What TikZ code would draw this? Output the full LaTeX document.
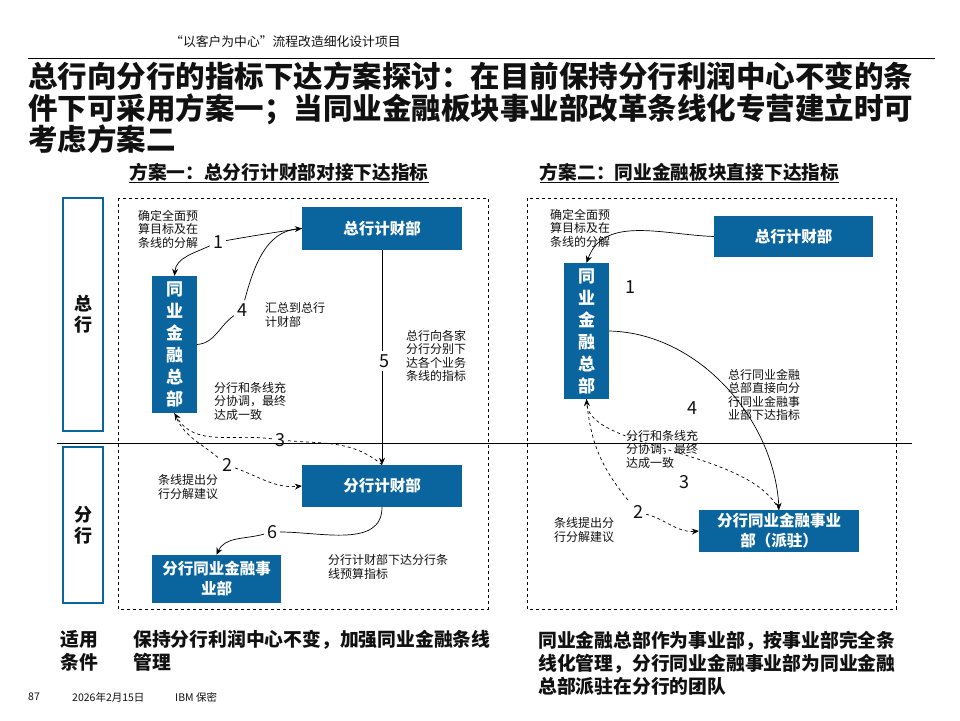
\documentclass[tikz,border=0pt]{standalone}
\usepackage{fontspec}
\setmainfont{Noto Sans CJK SC}
\usepackage{xcolor}
\usetikzlibrary{arrows.meta}
\definecolor{DeptBlue}{HTML}{0A659E}
\definecolor{Ink}{HTML}{111111}

\begin{document}
\begin{tikzpicture}[x=1pt,y=1pt,>={Stealth[length=7pt,width=6pt]},
  every node/.style={inner sep=0pt,text=Ink},
  dept/.style={fill=DeptBlue,text=white,font=\bfseries\fontsize{15.5}{20}\selectfont,align=center},
  tower/.style={dept,minimum width=45pt,font=\bfseries\fontsize{17}{22}\selectfont},
  side/.style={draw=DeptBlue,line width=1.1pt,fill=white,minimum width=40pt,font=\bfseries\fontsize{18}{21}\selectfont,align=center},
  memo/.style={font=\fontsize{12}{13.5}\selectfont,align=left,anchor=west},
  num/.style={font=\fontsize{18}{18}\selectfont,inner sep=3pt},
  cond/.style={font=\bfseries\fontsize{18.8}{23}\selectfont,align=left,anchor=west},
  foot/.style={font=\fontsize{10.5}{12}\selectfont,anchor=west},
  panel/.style={dashed,line width=0.7pt},
  link/.style={line width=0.7pt}]
\useasboundingbox (0,0) rectangle (960,-720);
\fill[white] (0,0) rectangle (960,-720);

\node[font=\fontsize{12.8}{14}\selectfont,anchor=west] (header) at (170,-42) {“以客户为中心”流程改造细化设计项目};
\draw[line width=1pt] (28,-58) -- (935,-58);
\node[font=\bfseries\fontsize{29.5}{31.5}\selectfont,align=left,anchor=west] (title) at (28,-108) {总行向分行的指标下达方案探讨：在目前保持分行利润中心不变的条\\件下可采用方案一；当同业金融板块事业部改革条线化专营建立时可\\考虑方案二};
\node[font=\bfseries\fontsize{18.7}{20}\selectfont] (planA) at (279,-173) {\underline{方案一：总分行计财部对接下达指标}};
\node[font=\bfseries\fontsize{18.7}{20}\selectfont] (planB) at (689.5,-173) {\underline{方案二：同业金融板块直接下达指标}};

\node[side,minimum height=233pt] (sideHQ) at (83,-314.5) {总\\行};
\node[side,minimum height=156pt] (sideBR) at (83,-525) {分\\行};
\draw[panel] (118,-198) rectangle (488,-609);
\draw[panel] (527,-198) rectangle (896,-609);
\draw[line width=0.8pt] (57,-443) -- (912,-443);

% plan one
\node[dept,minimum width=160pt,minimum height=43pt] (hqfinA) at (382,-228.5) {总行计财部};
\node[tower,minimum height=137pt] (ibhqA) at (174.5,-344.5) {同\\业\\金\\融\\总\\部};
\node[dept,minimum width=160pt,minimum height=42pt] (brfinA) at (382,-486) {分行计财部};
\node[dept,minimum width=129pt,minimum height=48pt] (brdivA) at (216.5,-579) {分行同业金融事\\业部};
\node[memo] (memo1A) at (138,-229) {确定全面预\\算目标及在\\条线的分解};
\node[memo] (memo4A) at (265,-315) {汇总到总行\\计财部};
\node[memo] (memo5A) at (406,-356) {总行向各家\\分行分别下\\达各个业务\\条线的指标};
\node[memo] (memo3A) at (214,-401) {分行和条线充\\分协调，最终\\达成一致};
\node[memo] (memo2A) at (158,-487) {条线提出分\\行分解建议};
\node[memo] (memo6A) at (328,-567) {分行计财部下达分行条\\线预算指标};
\node[num] (n1A) at (218,-242) {1};
\node[num] (n4A) at (242,-310) {4};
\node[num] (n5A) at (384,-361) {5};
\node[num] (n3A) at (280,-440) {3};
\node[num] (n2A) at (227,-465) {2};
\node[num] (n6A) at (272,-532) {6};
\draw[link] (n1A) to[out=10,in=188] (hqfinA.west);
\draw[link,->] (n1A) to[out=205,in=85] (ibhqA.north);
\draw[link] (ibhqA.east) to[out=5,in=215] (n4A);
\draw[link,->] (n4A) to[out=75,in=185] (hqfinA.west);
\draw[link] (hqfinA.south) -- (hqfinA.south |- n5A.north);
\draw[link,->] (brfinA.north |- n5A.south) -- (brfinA.north);
\draw[link,dashed] (brfinA.north) to[out=140,in=-5] (n3A);
\draw[link,dashed,->] (n3A) to[out=172,in=-60] (ibhqA.south);
\draw[link,dashed] (ibhqA.south) to[out=-70,in=140] (n2A);
\draw[link,dashed,->] (n2A) to[out=-20,in=185] (brfinA.west);
\draw[link] (brfinA.south) to[out=-90,in=0] (n6A);
\draw[link,->] (n6A) to[out=195,in=65] (brdivA.north);

% plan two
\node[dept,minimum width=159pt,minimum height=41pt] (hqfinB) at (793.5,-236.5) {总行计财部};
\node[tower,minimum height=136pt] (ibhqB) at (586.5,-331) {同\\业\\金\\融\\总\\部};
\node[dept,minimum width=160pt,minimum height=42pt] (brdivB) at (779,-531) {分行同业金融事业\\部（派驻）};
\node[memo] (memo1B) at (550,-228) {确定全面预\\算目标及在\\条线的分解};
\node[memo] (memo4B) at (728,-395) {总行同业金融\\总部直接向分\\行同业金融事\\业部下达指标};
\node[memo] (memo3B) at (626,-449) {分行和条线充\\分协调，最终\\达成一致};
\node[memo] (memo2B) at (554,-530) {条线提出分\\行分解建议};
\node[num] (n1B) at (630,-287) {1};
\node[num] (n4B) at (692,-408) {4};
\node[num] (n3B) at (684,-482) {3};
\node[num] (n2B) at (638,-512) {2};
\draw[link,->] (hqfinB.west) to[out=178,in=70] (ibhqB.north);
\draw[link,->] (ibhqB.east) .. controls +(90,-2) and +(-5,90) .. (brdivB.north);
\draw[link,dashed,->] (brdivB.north) .. controls +(-29,60) and +(3,-50) .. (ibhqB.south);
\draw[link,dashed] (ibhqB.south) to[out=-85,in=130] (n2B);
\draw[link,dashed,->] (n2B) to[out=-15,in=185] (brdivB.west);

% conditions and footer
\node[cond] (condHead) at (60,-651) {适用\\条件};
\node[cond] (condA) at (133,-651) {保持分行利润中心不变，加强同业金融条线\\管理};
\node[cond] (condB) at (538,-663) {同业金融总部作为事业部，按事业部完全条\\线化管理，分行同业金融事业部为同业金融\\总部派驻在分行的团队};
\node[foot] (pageNo) at (28,-697) {87};
\node[foot] (dateNo) at (72,-697) {2026年2月15日};
\node[foot] (secret) at (175,-697) {IBM 保密};
\end{tikzpicture}
\end{document}
